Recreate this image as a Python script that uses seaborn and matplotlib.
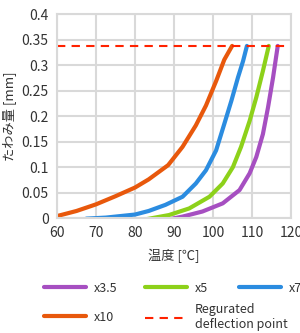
import numpy as np
import pandas as pd
import seaborn as sns
import matplotlib.pyplot as plt
from matplotlib.lines import Line2D

# data
temp_x35 = [88.3, 92.2, 97.3, 102.5, 106.8, 109.4, 111.1, 112.8, 114.1, 115.4, 116.6]
defl_x35 = [-0.003, 0.003, 0.013, 0.029, 0.055, 0.088, 0.12, 0.165, 0.217, 0.276, 0.338]
temp_x5 = [82.3, 88.7, 93.9, 99.1, 102.5, 105.1, 107.2, 109.4, 111.1, 112.8, 114.3]
defl_x5 = [-0.003, 0.006, 0.019, 0.042, 0.068, 0.1, 0.14, 0.191, 0.237, 0.289, 0.338]
temp_x7 = [67.5, 72.5, 80, 83.5, 87.8, 92.2, 95.6, 98.2, 100.8, 102.9, 104.7, 106.4, 107.7, 108.7]
defl_x7 = [-0.001, 0.001, 0.007, 0.014, 0.026, 0.042, 0.068, 0.094, 0.133, 0.185, 0.23, 0.276, 0.308, 0.338]
temp_x10 = [60, 65, 70, 75, 80, 83.5, 88.5, 92.2, 95.6, 98.2, 100.8, 102.9, 104.9]
defl_x10 = [0.004, 0.014, 0.027, 0.043, 0.06, 0.076, 0.104, 0.14, 0.182, 0.221, 0.269, 0.311, 0.338]
limit = 0.338

series = ["x3.5", "x5", "x7", "x10"]
colors = ["#A64FC1", "#8DD11A", "#2B8CE0", "#E8580C"]
limit_label = "Regurated\ndeflection point"
x_ticks = [60, 70, 80, 90, 100, 110, 120]
y_ticks = [0, 0.05, 0.1, 0.15, 0.2, 0.25, 0.3, 0.35, 0.4]

sns.set_style("white")
plt.rcParams['font.family'] = ['Noto Sans CJK JP', 'DejaVu Sans']

rows = []
for name, xs, ys in zip(series, [temp_x35, temp_x5, temp_x7, temp_x10],
                        [defl_x35, defl_x5, defl_x7, defl_x10]):
    rows += [(name, a, b) for a, b in zip(xs, ys)]
df = pd.DataFrame(rows, columns=["series", "temp", "defl"])

fig = plt.figure(figsize=(3.0, 3.33), dpi=100)
ax = fig.add_axes([0.19, 0.345, 0.78, 0.612])

sns.lineplot(data=df, x="temp", y="defl", hue="series", hue_order=series,
             palette=colors, sort=False, estimator=None, linewidth=3,
             legend=False, ax=ax, solid_capstyle="round", solid_joinstyle="round")
ax.axhline(limit, color="#FF2200", linestyle=(0, (4, 3)), linewidth=1.5)

ax.set_xlim(60, 120)
ax.set_ylim(0, 0.4)
ax.set_xticks(x_ticks)
ax.set_xticklabels([str(t) for t in x_ticks])
ax.set_yticks(y_ticks)
ax.set_yticklabels(["0" if t == 0 else f"{t:g}" for t in y_ticks])
ax.grid(True, color="#D9D9D9", linewidth=1.5)
ax.set_axisbelow(True)
for s in ax.spines.values():
    s.set_color("#D9D9D9")
    s.set_linewidth(1.5)
ax.tick_params(length=0, labelsize=10, colors="#333333", pad=6)
ax.set_xlabel("温度 [℃]", fontsize=9.5, color="#333333", labelpad=6)
ax.set_ylabel("たわみ量 [mm]", fontsize=9.5, color="#333333", labelpad=3)

# legend entries placed one by one
handles = [Line2D([], [], color=c, linewidth=3) for c in colors]
handles.append(Line2D([], [], color="#FF2200", linestyle=(0, (4, 3)), linewidth=1.5))
labels = series + [limit_label]
spots = [(0.145, 0.135), (0.482, 0.135), (0.795, 0.135), (0.145, 0.047), (0.482, 0.047)]
for h, l, (px, py) in zip(handles, labels, spots):
    fig.legend(handles=[h], labels=[l], loc="center left", bbox_to_anchor=(px, py),
               frameon=False, fontsize=9, handlelength=3.4, handletextpad=0.6,
               borderpad=0, borderaxespad=0, labelcolor="#333333",
               labelspacing=0.1)

fig.savefig("out.png", dpi=100)
